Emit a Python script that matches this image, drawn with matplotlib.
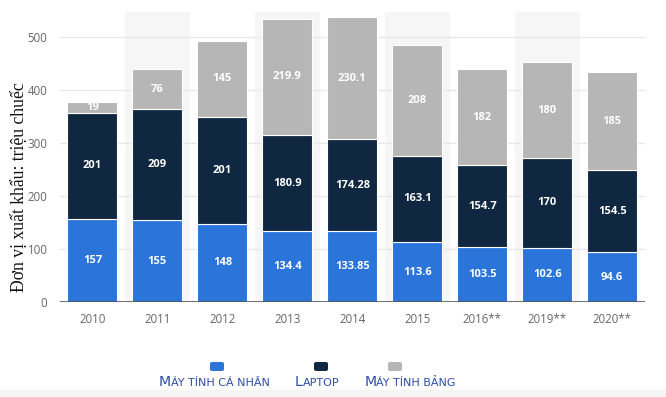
import matplotlib
matplotlib.use("Agg")
import matplotlib.pyplot as plt
import numpy as np

# Data
years = ["2010", "2011", "2012", "2013", "2014", "2015", "2016**", "2019**", "2020**"]
desktop = [157, 155, 148, 134.4, 133.85, 113.6, 103.5, 102.6, 94.6]
laptop = [201, 209, 201, 180.9, 174.28, 163.1, 154.7, 170, 154.5]
tablet = [19, 76, 145, 219.9, 230.1, 208, 182, 180, 185]
desktop_labels = ["157", "155", "148", "134.4", "133.85", "113.6", "103.5", "102.6", "94.6"]
laptop_labels = ["201", "209", "201", "180.9", "174.28", "163.1", "154.7", "170", "154.5"]
tablet_labels = ["19", "76", "145", "219.9", "230.1", "208", "182", "180", "185"]
legend_names = ["Máy tính cá nhân", "Laptop", "Máy tính bảng"]

c_blue = "#2a74da"
c_navy = "#0f2741"
c_gray = "#b6b6b6"
colors = [c_blue, c_navy, c_gray]

plt.rcParams['font.family'] = ['Open Sans', 'DejaVu Sans']

fig = plt.figure(figsize=(6.66, 3.97), dpi=100)
ax = fig.add_axes([0.090, 0.239, 0.878, 0.731])

x = np.arange(len(years))
ymax = 548

# alternating background bands
for i in x:
    if i % 2 == 1:
        ax.axvspan(i - 0.5, i + 0.5, color="#f6f6f6", zorder=0, lw=0)

for t in [100, 200, 300, 400, 500]:
    ax.axhline(t, color="#e8e8e8", lw=1, zorder=1)

w = 0.77
bottom = np.zeros(len(years))
series = [desktop, laptop, tablet]
labels = [desktop_labels, laptop_labels, tablet_labels]
for vals, labs, col in zip(series, labels, colors):
    vals = np.array(vals)
    ax.bar(x, vals, w, bottom=bottom, color=col, edgecolor="white", linewidth=0.8, zorder=2)
    for xi, b, v, lab in zip(x, bottom, vals, labs):
        ax.text(xi, b + v / 2, lab, ha="center", va="center", color="white",
                fontsize=8, fontweight="bold", zorder=3)
    bottom = bottom + vals

ax.axhline(0, color="#555555", lw=1.2, zorder=4)

ax.set_xlim(-0.5, 8.5)
ax.set_ylim(0, ymax)
ax.set_yticks([0, 100, 200, 300, 400, 500])
ax.set_xticks(x)
ax.set_xticklabels(years)
ax.tick_params(axis="both", length=0, labelsize=8.3, labelcolor="#666666")
ax.tick_params(axis="x", pad=8)
ax.tick_params(axis="y", pad=9)
for s in ax.spines.values():
    s.set_visible(False)

fig.text(19 / 666, 1 - 187 / 397, "Đơn vị xuất khẩu: triệu chuếc", rotation=90,
         ha="center", va="center", fontsize=12.7, family=["Liberation Serif"], color="#111111")

# legend drawn by hand in small caps style
renderer = fig.canvas.get_renderer()
legend_color = "#2d4ea6"
marker_x = [217, 321, 395]
text_x = [214, 317, 410]
for name, col, mx, tx in zip(legend_names, colors, marker_x, text_x):
    fig.patches.append(matplotlib.patches.FancyBboxPatch(
        ((mx - 7) / 666, 1 - 371 / 397), 14 / 666, 9 / 397,
        boxstyle="round,pad=0,rounding_size=0.004", transform=fig.transFigure,
        facecolor=col, edgecolor="none"))
    first = fig.text(0, 0, name[0], fontsize=10.2, color=legend_color, family=["DejaVu Sans"])
    rest = fig.text(0, 0, name[1:].upper(), fontsize=8, color=legend_color, family=["DejaVu Sans"])
    w1 = first.get_window_extent(renderer).width
    w2 = rest.get_window_extent(renderer).width
    x0 = tx - (w1 + w2) / 2
    first.set_position((x0 / 666, 1 - 386 / 397))
    rest.set_position(((x0 + w1) / 666, 1 - 386 / 397))

fig.patches.append(matplotlib.patches.Rectangle((0, 0), 1, 7 / 397, transform=fig.transFigure,
                                                facecolor="#f5f5f5", edgecolor="none"))

fig.savefig("out.png", dpi=100)
